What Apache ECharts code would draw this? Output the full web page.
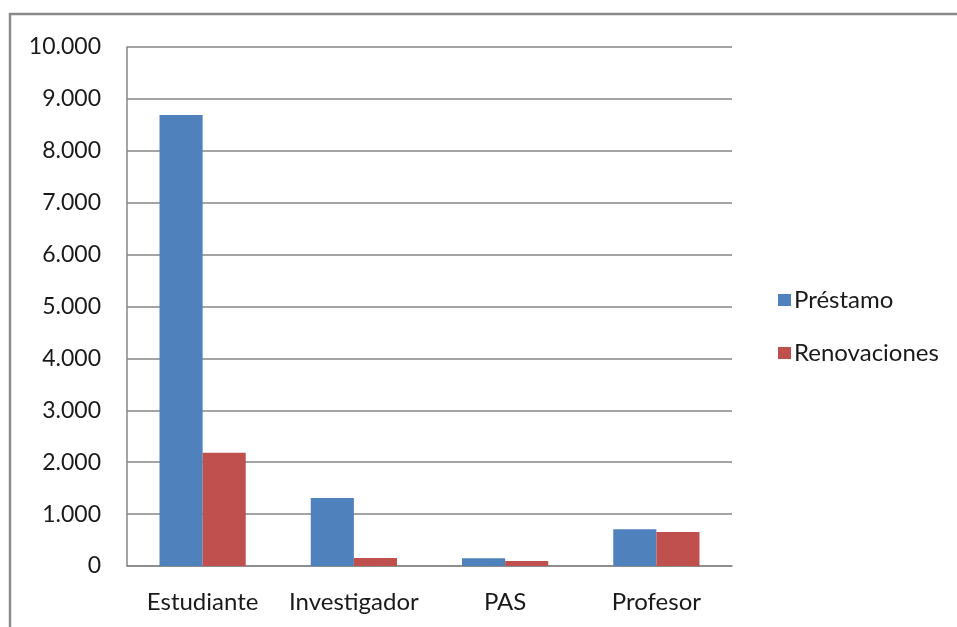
<!DOCTYPE html>
<html>
<head>
<meta charset="utf-8">
<script src="https://cdn.jsdelivr.net/npm/echarts@6/dist/echarts.min.js"></script>
<style>
  html, body { margin: 0; padding: 0; background: #fff; }
  #main { width: 957px; height: 627px; }
</style>
</head>
<body>
<div id="main"></div>
<script>
// datos
let categorias = ["Estudiante", "Investigador", "PAS", "Profesor"]
let prestamo = [8690, 1310, 150, 710]
let renovaciones = [2180, 155, 95, 655]
let series_nombres = ["Préstamo", "Renovaciones"]

let fuente = "Lato"
let myChart = echarts.init(document.getElementById('main'))

function miles(v) {
  return String(v).replace(/\B(?=(\d{3})+(?!\d))/g, ".")
}

var option = {
  animation: false,
  graphic: [{
    type: 'rect',
    shape: { x: 10, y: 14, width: 980, height: 640 },
    style: { fill: 'none', stroke: '#8a8a8a', lineWidth: 2.5 }
  }],
  grid: { left: 127, right: 225, top: 47, bottom: 61 },
  legend: {
    orient: 'vertical',
    left: 773,
    top: 283,
    itemWidth: 13,
    itemHeight: 12,
    itemGap: 29,
    icon: 'rect',
    textStyle: { fontFamily: fuente, fontSize: 24, color: '#1a1a1a', padding: [0, 0, 0, -2] },
    data: series_nombres
  },
  xAxis: {
    type: 'category',
    data: categorias,
    axisTick: { show: false },
    axisLine: { lineStyle: { color: '#868686', width: 1.5 } },
    axisLabel: { fontFamily: fuente, fontSize: 24, color: '#1a1a1a', margin: 24, interval: 0 }
  },
  yAxis: {
    type: 'value',
    min: 0,
    max: 10000,
    interval: 1000,
    axisLine: { show: true, lineStyle: { color: '#868686', width: 1.5 } },
    axisTick: { show: false },
    splitLine: { lineStyle: { color: '#868686', width: 1.5 } },
    axisLabel: { fontFamily: fuente, fontSize: 23, color: '#1a1a1a', margin: 26, formatter: miles }
  },
  series: [
    {
      name: series_nombres[0],
      type: 'bar',
      data: prestamo,
      barGap: '0%',
      barCategoryGap: '43%',
      itemStyle: { color: '#4f81bd' }
    },
    {
      name: series_nombres[1],
      type: 'bar',
      data: renovaciones,
      barGap: '0%',
      barCategoryGap: '43%',
      itemStyle: { color: '#c0504d' }
    }
  ]
}

myChart.setOption(option)
</script>
</body>
</html>
